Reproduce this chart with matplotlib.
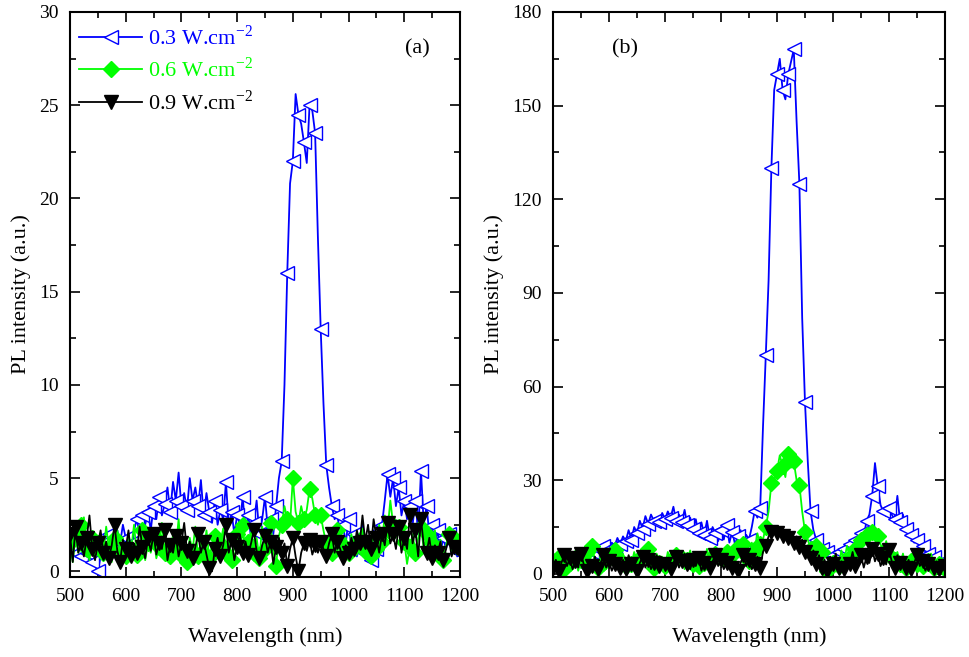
import matplotlib.pyplot as plt
import numpy as np

plt.rcParams['font.family'] = ['Liberation Serif', 'DejaVu Serif']
plt.rcParams['mathtext.fontset'] = 'custom'
plt.rcParams['mathtext.rm'] = 'Liberation Serif'

# wavelength grid (nm), 5 nm step
wavelength = np.arange(500, 1201, 5)

labels = ['0.3 W.cm$^{\\mathrm{-2}}$', '0.6 W.cm$^{\\mathrm{-2}}$', '0.9 W.cm$^{\\mathrm{-2}}$']

# panel (a)
a_03 = [1.2, 2.0, 1.0, 1.5, 0.8, 2.2, 1.0, 1.8, 0.5, 0.3, 0.0, 0.8, 1.5, 1.0, 2.0, 1.5, 1.2, 2.2, 1.5, 2.5,
        1.8, 2.0, 1.5, 2.2, 2.8, 2.0, 3.0, 2.5, 3.2, 2.2, 3.5, 2.8, 4.0, 3.0, 3.6, 4.5, 3.2, 4.8, 3.8, 5.3,
        3.5, 4.2, 3.3, 5.0, 3.8, 4.5, 3.5, 4.9, 3.0, 4.2, 3.2, 2.6, 3.8, 2.5, 3.3, 2.8, 4.8, 2.4, 3.2, 2.0,
        3.0, 2.5, 4.0, 2.2, 3.0, 1.8, 2.6, 3.8, 2.0, 2.8, 4.0, 2.3, 2.8, 2.0, 3.5, 5.0, 5.9, 10.0, 16.0, 20.8,
        22.0, 25.6, 24.5, 24.0, 23.0, 21.9, 25.0, 24.7, 23.5, 17.9, 13.0, 9.0, 5.7, 4.5, 3.5, 2.8, 3.0, 2.0, 2.5, 1.5,
        2.8, 1.2, 2.0, 0.8, 1.5, 2.5, 1.0, 1.8, 0.6, 2.2, 1.2, 1.8, 2.5, 3.8, 5.2, 4.0, 5.0, 3.5, 4.5, 3.0,
        3.8, 2.8, 3.5, 2.5, 3.8, 2.0, 5.4, 2.5, 3.5, 2.0, 2.5, 1.5, 2.2, 1.0, 1.8, 1.2, 2.0, 1.0, 1.5, 0.8,
        1.0]
a_06 = [1.5, 0.5, 2.0, 1.0, 2.5, 2.9, 1.2, 0.6, 1.8, 0.8, 1.5, 2.0, 1.0, 2.4, 1.2, 0.5, 1.8, 2.2, 1.0, 1.6,
        0.8, 2.0, 1.2, 2.5, 0.9, 1.4, 2.2, 0.6, 1.5, 1.0, 1.9, 0.7, 1.3, 2.6, 1.0, 1.6, 0.8, 2.0, 1.2, 2.8,
        0.9, 1.5, 0.5, 1.8, 1.1, 2.4, 0.8, 1.6, 1.0, 2.2, 0.7, 1.4, 1.9, 0.9, 1.5, 2.3, 1.0, 1.7, 0.6, 1.3,
        2.0, 1.1, 2.5, 0.8, 1.6, 2.1, 1.0, 1.8, 0.7, 2.4, 1.2, 1.7, 2.6, 1.1, 0.3, 1.9, 2.5, 3.5, 2.8, 2.5,
        5.0, 3.2, 2.6, 3.5, 2.8, 3.3, 4.4, 3.9, 3.0, 2.5, 3.0, 2.2, 1.5, 2.0, 1.0, 1.6, 2.2, 0.8, 1.4, 1.8,
        1.0, 2.0, 1.3, 0.9, 1.7, 2.3, 1.1, 1.5, 0.8, 2.0, 1.2, 2.5, 1.6, 3.0, 2.2, 3.8, 2.5, 1.8, 2.4, 1.2,
        1.6, 0.4, 1.3, 2.0, 1.0, 1.8, 2.4, 1.2, 2.0, 0.9, 1.5, 2.2, 1.0, 1.7, 0.6, 1.4, 2.0, 1.1, 1.8, 0.9,
        1.5]
a_09 = [2.0, 0.5, 2.4, 1.0, 1.5, 0.8, 1.8, 3.0, 1.2, 0.6, 1.5, 2.2, 1.0, 1.6, 0.7, 1.4, 2.5, 1.1, 0.5, 1.7,
        1.2, 2.2, 0.8, 1.5, 1.0, 2.4, 1.3, 0.7, 1.8, 1.1, 2.0, 0.9, 1.5, 1.2, 2.2, 0.6, 1.4, 1.0, 1.9, 0.8,
        1.5, 2.6, 1.1, 1.6, 0.7, 1.3, 2.0, 1.0, 1.6, 0.9, 0.2, 0.0, 1.2, 1.8, 0.8, 1.4, 2.5, 1.0, 1.7, 0.6,
        1.3, 2.0, 1.0, 1.6, 0.9, 1.5, 2.2, 1.1, 0.7, 1.4, 1.9, 1.0, 1.6, 0.4, 1.3, 1.8, 1.0, 1.5, 0.3, 1.2,
        1.8, 0.8, 0.0, 1.0, 1.5, 1.1, 1.7, 0.9, 1.4, 1.0, 1.6, 1.2, 0.8, 1.5, 2.0, 1.0, 1.6, 1.2, 0.7, 1.4,
        1.0, 1.8, 1.2, 2.2, 1.5, 3.0, 1.6, 2.5, 1.2, 2.8, 1.8, 1.0, 2.0, 1.4, 2.6, 1.5, 2.0, 1.2, 2.4, 1.0,
        1.8, 1.2, 3.0, 1.5, 2.2, 0.8, 2.8, 1.4, 1.0, 1.8, 0.7, 1.4, 1.0, 1.6, 0.6, 1.2, 1.8, 0.8, 1.3, 0.9,
        1.1]

# panel (b)
b_03 = [3.0, 4.5, 2.5, 5.0, 3.5, 2.0, 4.5, 3.0, 5.5, 4.0, 3.0, 5.0, 6.0, 4.5, 7.0, 5.5, 8.0, 6.5, 9.0, 7.5,
        8.0, 10.0, 9.0, 11.5, 9.5, 12.0, 10.5, 14.0, 11.0, 15.0, 13.0, 17.0, 14.5, 18.5, 16.0, 19.0, 17.0, 18.0, 16.5, 19.5,
        17.5, 20.0, 18.0, 21.5, 17.0, 19.0, 16.5, 20.5, 15.5, 18.0, 14.5, 17.5, 13.0, 16.5, 12.5, 17.0, 11.5, 15.0, 13.0, 10.5,
        14.0, 11.0, 15.5, 10.0, 13.5, 9.5, 12.0, 14.0, 10.0, 12.5, 11.0, 15.0, 20.0, 18.0, 21.0, 47.0, 70.0, 94.0, 130.0, 155.0,
        160.0, 165.0, 155.0, 152.0, 160.0, 164.0, 168.0, 145.0, 125.0, 82.0, 55.0, 36.0, 20.0, 14.0, 11.0, 9.0, 8.0, 6.5, 7.0, 5.5,
        6.0, 4.5, 7.0, 5.0, 8.0, 6.5, 9.5, 8.0, 11.0, 10.0, 13.0, 12.0, 17.0, 19.0, 25.0, 35.5, 28.0, 22.0, 20.0, 18.5,
        21.0, 19.0, 17.5, 25.0, 16.5, 19.0, 14.5, 13.0, 12.5, 10.0, 11.0, 8.5, 9.0, 7.0, 6.5, 5.0, 5.5, 4.0, 3.5, 2.5,
        3.0]
b_06 = [4.0, 2.0, 5.5, 3.0, 1.5, 6.0, 3.5, 2.0, 5.0, 1.0, 4.5, 3.0, 7.0, 2.5, 9.0, 4.0, 2.0, 6.0, 3.5, 1.5,
        5.0, 3.0, 7.5, 2.0, 4.5, 6.5, 2.5, 5.0, 3.0, 7.0, 4.0, 1.5, 6.0, 3.5, 8.0, 4.5, 2.0, 6.5, 3.5, 5.5,
        2.5, 7.0, 4.0, 2.0, 6.0, 3.0, 5.0, 1.5, 4.5, 7.5, 3.0, 5.5, 2.5, 6.0, 3.5, 8.0, 4.0, 2.0, 6.5, 3.5,
        5.0, 2.5, 7.0, 4.0, 6.0, 3.0, 8.5, 5.0, 9.5, 6.0, 4.0, 10.0, 7.0, 13.0, 9.5, 11.0, 15.0, 20.0, 29.0, 30.0,
        33.0, 38.0, 34.5, 31.0, 38.5, 34.0, 36.0, 30.0, 28.5, 20.0, 13.5, 11.0, 8.0, 6.5, 9.0, 4.0, 7.0, 2.0, 1.0, 5.0,
        3.5, 6.0, 2.5, 7.5, 4.0, 9.0, 5.5, 3.0, 8.0, 6.5, 11.0, 9.0, 12.5, 10.0, 13.5, 11.0, 12.0, 9.5, 7.0, 10.5,
        6.0, 8.5, 4.5, 7.0, 3.0, 6.5, 2.0, 5.5, 4.0, 7.5, 3.0, 6.0, 2.5, 5.0, 4.0, 6.5, 2.0, 4.5, 3.0, 5.0,
        1.5]
b_09 = [2.0, 4.5, 1.0, 3.5, 6.0, 2.5, 5.0, 1.5, 4.0, 2.0, 6.5, 3.0, 1.0, 4.5, 2.5, 5.5, 1.5, 3.5, 6.0, 2.0,
        4.0, 1.0, 3.0, 5.0, 2.0, 4.5, 1.5, 6.0, 3.0, 4.0, 1.0, 3.5, 5.5, 2.0, 4.5, 1.5, 3.5, 6.0, 2.5, 5.0,
        3.0, 4.5, 1.5, 3.5, 5.5, 2.0, 4.0, 6.5, 3.0, 1.5, 4.5, 2.5, 5.0, 1.0, 3.5, 5.5, 2.0, 4.0, 6.0, 2.5,
        4.5, 1.5, 3.5, 5.0, 2.0, 4.0, 1.0, 3.5, 6.0, 2.5, 4.5, 1.5, 3.0, 5.5, 2.0, 7.0, 9.0, 12.0, 13.5, 15.0,
        13.0, 14.5, 12.0, 14.0, 11.5, 13.0, 10.0, 12.0, 8.5, 11.0, 7.0, 9.0, 5.0, 7.5, 3.0, 6.0, 2.0, 4.5, 1.0, 5.5,
        3.0, 6.5, 2.0, 4.0, 1.5, 5.0, 3.0, 7.0, 2.5, 4.5, 6.0, 2.0, 5.5, 3.5, 8.0, 4.0, 6.5, 2.5, 5.0, 3.0,
        7.5, 4.0, 2.0, 6.0, 3.5, 5.0, 2.0, 4.5, 1.5, 3.5, 6.0, 2.5, 4.0, 1.0, 3.0, 5.0, 2.0, 4.0, 1.5, 3.5,
        2.5]

colors = ['#0000ff', '#00ff00', '#000000']
styles = [dict(marker='<', markerfacecolor='white', markeredgecolor='#0000ff', markersize=10, markeredgewidth=1.0),
          dict(marker='D', markerfacecolor='#00ff00', markeredgecolor='#00ff00', markersize=8),
          dict(marker='v', markerfacecolor='black', markeredgecolor='black', markersize=10)]

fig = plt.figure(figsize=(9.69, 6.57), dpi=100)
ax_a = fig.add_axes([0.0722, 0.1218, 0.4025, 0.860])
ax_b = fig.add_axes([0.5707, 0.1218, 0.4045, 0.860])


def draw_panel(ax, series, ylim, yticks, yminor, tag, tag_x):
    for y, c, st, lab in zip(series, colors, styles, labels):
        ax.plot(wavelength, y, color=c, linewidth=1.3, markevery=2, label=lab, **st)
    ax.set_xlim(500, 1200)
    ax.set_ylim(*ylim)
    ax.set_xticks(np.arange(500, 1201, 100))
    ax.set_xticks(np.arange(550, 1200, 100), minor=True)
    ax.set_yticks(yticks)
    ax.set_yticks(yminor, minor=True)
    ax.tick_params(which='both', direction='in', top=True, right=True, labelsize=14, width=1.2)
    ax.tick_params(which='major', length=7, pad=8)
    ax.tick_params(which='minor', length=4)
    for s in ax.spines.values():
        s.set_linewidth(1.5)
    ax.set_xlabel('Wavelength (nm)', fontsize=16, labelpad=16)
    ax.set_ylabel('PL intensity (a.u.)', fontsize=16, labelpad=6)
    ax.text(tag_x, 0.935, tag, transform=ax.transAxes, fontsize=16, va='center')


draw_panel(ax_a, [a_03, a_06, a_09], (-0.3, 30), np.arange(0, 31, 5), np.arange(2.5, 30, 5), '(a)', 0.86)
draw_panel(ax_b, [b_03, b_06, b_09], (-1, 180), np.arange(0, 181, 30), np.arange(15, 180, 30), '(b)', 0.15)

leg = ax_a.legend(loc='upper left', bbox_to_anchor=(-0.01, 1.0), frameon=False, fontsize=16,
                  handlelength=2.8, borderaxespad=0.4, labelspacing=0.35, handletextpad=0.3, borderpad=0.2)
for txt, c in zip(leg.get_texts(), colors):
    txt.set_color(c)

plt.savefig('out.png', dpi=100)
